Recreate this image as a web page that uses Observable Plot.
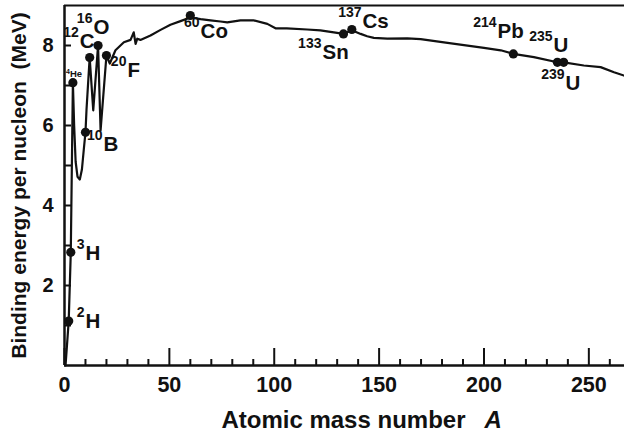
<!DOCTYPE html>
<html><head><meta charset="utf-8">
<script src="https://cdn.jsdelivr.net/npm/d3@7"></script>
<script src="https://cdn.jsdelivr.net/npm/@observablehq/plot@0.6"></script>
<style>body{margin:0;background:#fff}#chart svg{display:block}</style>
</head><body><div id="chart"></div>
<script>
// Binding-energy curve (A, MeV per nucleon)
const curveA = [0.5,2,3,4,4.6,5.3,6.2,7.3,8.3,9.2,10,10.5,12,13.7,16,17.2,20,21.6,24.3,28.3,31.5,33,33.9,34.7,36.2,41,45.8,50.5,55.3,60,64.9,69.6,74.4,77.6,83.9,90,96.7,100.6,106,115.7,122,129.2,133,137,141.2,144.3,147.5,153.9,163.4,169.8,180.9,200,208,214,223.8,235,238,247.6,255.6,262,266.7];
const curveE = [0,1.11,2.83,7.07,6.0,5.1,4.72,4.65,4.9,5.4,5.83,6.4,7.7,6.38,8.0,5.88,7.75,7.55,7.88,8.08,8.14,8.33,8.04,8.17,8.14,8.25,8.39,8.52,8.61,8.7,8.66,8.63,8.6,8.58,8.63,8.63,8.54,8.43,8.43,8.4,8.38,8.32,8.29,8.38,8.29,8.23,8.19,8.17,8.18,8.16,8.08,7.94,7.88,7.79,7.71,7.58,7.58,7.5,7.46,7.33,7.25];

// Marked nuclides
const nuclideMass   = ["2","3","4","10","12","16","20","60","133","137","214","235","239"];
const nuclideSymbol = ["H","H","He","B","C","O","F","Co","Sn","Cs","Pb","U","U"];
const nuclideA = [2,3,4,10,12,16,20,60,133,137,214,235,238];
const nuclideE = [1.11,2.83,7.07,5.83,7.7,8.0,7.75,8.75,8.29,8.4,7.79,7.58,7.58];
// where each label sits (data units)
const labelA = [10,10,2.6,18.6,7.3,13.8,30,64.9,123,142.1,206.5,233.2,238.9];
const labelE = [0.93,2.65,7.21,5.375,7.94,8.3,7.22,8.2,7.67,8.43,8.18,7.83,6.9];

const xTicks = [0,50,100,150,200,250];
const xMinorTicks = [10,20,30,40,60,70,80,90,110,120,130,140,160,170,180,190,210,220,230,240,260];
const yTickLabels = [2,4,6,8];
const yTicks = [1,2,3,4,5,6,7,8];

const xTitle = "Atomic mass number";
const xTitleVar = "A";
const yTitle = "Binding energy per nucleon  (MeV)";

const curve = curveA.map((a, i) => ({A: a, E: curveE[i]}));
const nuclides = nuclideA.map((a, i) => ({A: a, E: nuclideE[i], mass: nuclideMass[i], sym: nuclideSymbol[i], lx: labelA[i], ly: labelE[i]}));
const bigLabels = nuclides.filter(d => d.sym !== "He");
const smallLabels = nuclides.filter(d => d.sym === "He");

const W = 624, H = 434, mL = 64, mR = 0, mT = 5, mB = 69;
const frameH = H - mT - mB, frameW = W - mL - mR;
const xDomain = [0, 267], yDomain = [0, 9];
// tick lengths in pixels, turned into scale units
const pxX = (xDomain[1] - xDomain[0]) / frameW;
const pxY = (yDomain[1] - yDomain[0]) / frameH;
const majorLen = 17 * pxY, minorLen = 6 * pxY, yTickLen = 7 * pxX;

const chart = Plot.plot({
  width: W, height: H,
  marginLeft: mL, marginRight: mR, marginTop: mT, marginBottom: mB,
  style: {fontFamily: "'Liberation Sans', Arial, sans-serif", fontWeight: "bold", color: "#111", background: "#fff", overflow: "visible"},
  x: {domain: xDomain},
  y: {domain: yDomain},
  marks: [
    // inward ticks
    Plot.ruleX(xTicks, {x: d => d, y1: 0, y2: majorLen, stroke: "#111", strokeWidth: 2}),
    Plot.ruleX(xMinorTicks, {x: d => d, y1: 0, y2: minorLen, stroke: "#111", strokeWidth: 2}),
    Plot.ruleY(yTicks, {y: d => d, x1: 0, x2: yTickLen, stroke: "#111", strokeWidth: 2}),
    // frame lines
    Plot.ruleY([0], {stroke: "#111", strokeWidth: 2.5}),
    Plot.ruleY([9], {stroke: "#111", strokeWidth: 2}),
    Plot.ruleX([0], {stroke: "#111", strokeWidth: 2.5}),
    // tick labels
    Plot.axisX({ticks: xTicks, tickSize: 0, tickPadding: 11, fontSize: 21.5, fontWeight: "bold", label: null}),
    Plot.axisY({ticks: yTickLabels, tickSize: 0, tickPadding: 11, fontSize: 20, fontWeight: "bold", label: null}),
    // curve
    Plot.line(curve, {x: "A", y: "E", stroke: "#111", strokeWidth: 2.2, strokeLinejoin: "round"}),
    Plot.dot(nuclides, {x: "A", y: "E", r: 4.6, fill: "#111"}),
    // labels: element symbol + mass-number superscript
    Plot.text(bigLabels, {x: "lx", y: "ly", text: "sym", textAnchor: "start", lineAnchor: "bottom", fontSize: 20.5, fontWeight: "bold", fill: "#111"}),
    Plot.text(bigLabels, {x: "lx", y: "ly", text: "mass", textAnchor: "end", lineAnchor: "bottom", dx: -1, dy: -11, fontSize: 14, fontWeight: "bold", fill: "#111"}),
    Plot.text(smallLabels, {x: "lx", y: "ly", text: "sym", textAnchor: "start", lineAnchor: "bottom", fontSize: 9.5, fontWeight: "bold", fill: "#111"}),
    Plot.text(smallLabels, {x: "lx", y: "ly", text: "mass", textAnchor: "end", lineAnchor: "bottom", dy: -3, fontSize: 7, fontWeight: "bold", fill: "#111"}),
    // axis titles
    Plot.text([xTitle], {frameAnchor: "bottom", text: d => d, textAnchor: "end", lineAnchor: "bottom", dx: 121, dy: 62, fontSize: 24, fontWeight: "bold", fill: "#111"}),
    Plot.text([xTitleVar], {frameAnchor: "bottom", text: d => d, textAnchor: "start", lineAnchor: "bottom", dx: 140, dy: 62, fontSize: 24, fontWeight: "bold", fontStyle: "italic", fill: "#111"}),
    Plot.text([yTitle], {frameAnchor: "left", text: d => d, rotate: -90, textAnchor: "middle", lineAnchor: "bottom", dx: -39, fontSize: 21, fontWeight: "bold", fill: "#111"})
  ]
});
document.getElementById("chart").appendChild(chart);
</script>
</body></html>
